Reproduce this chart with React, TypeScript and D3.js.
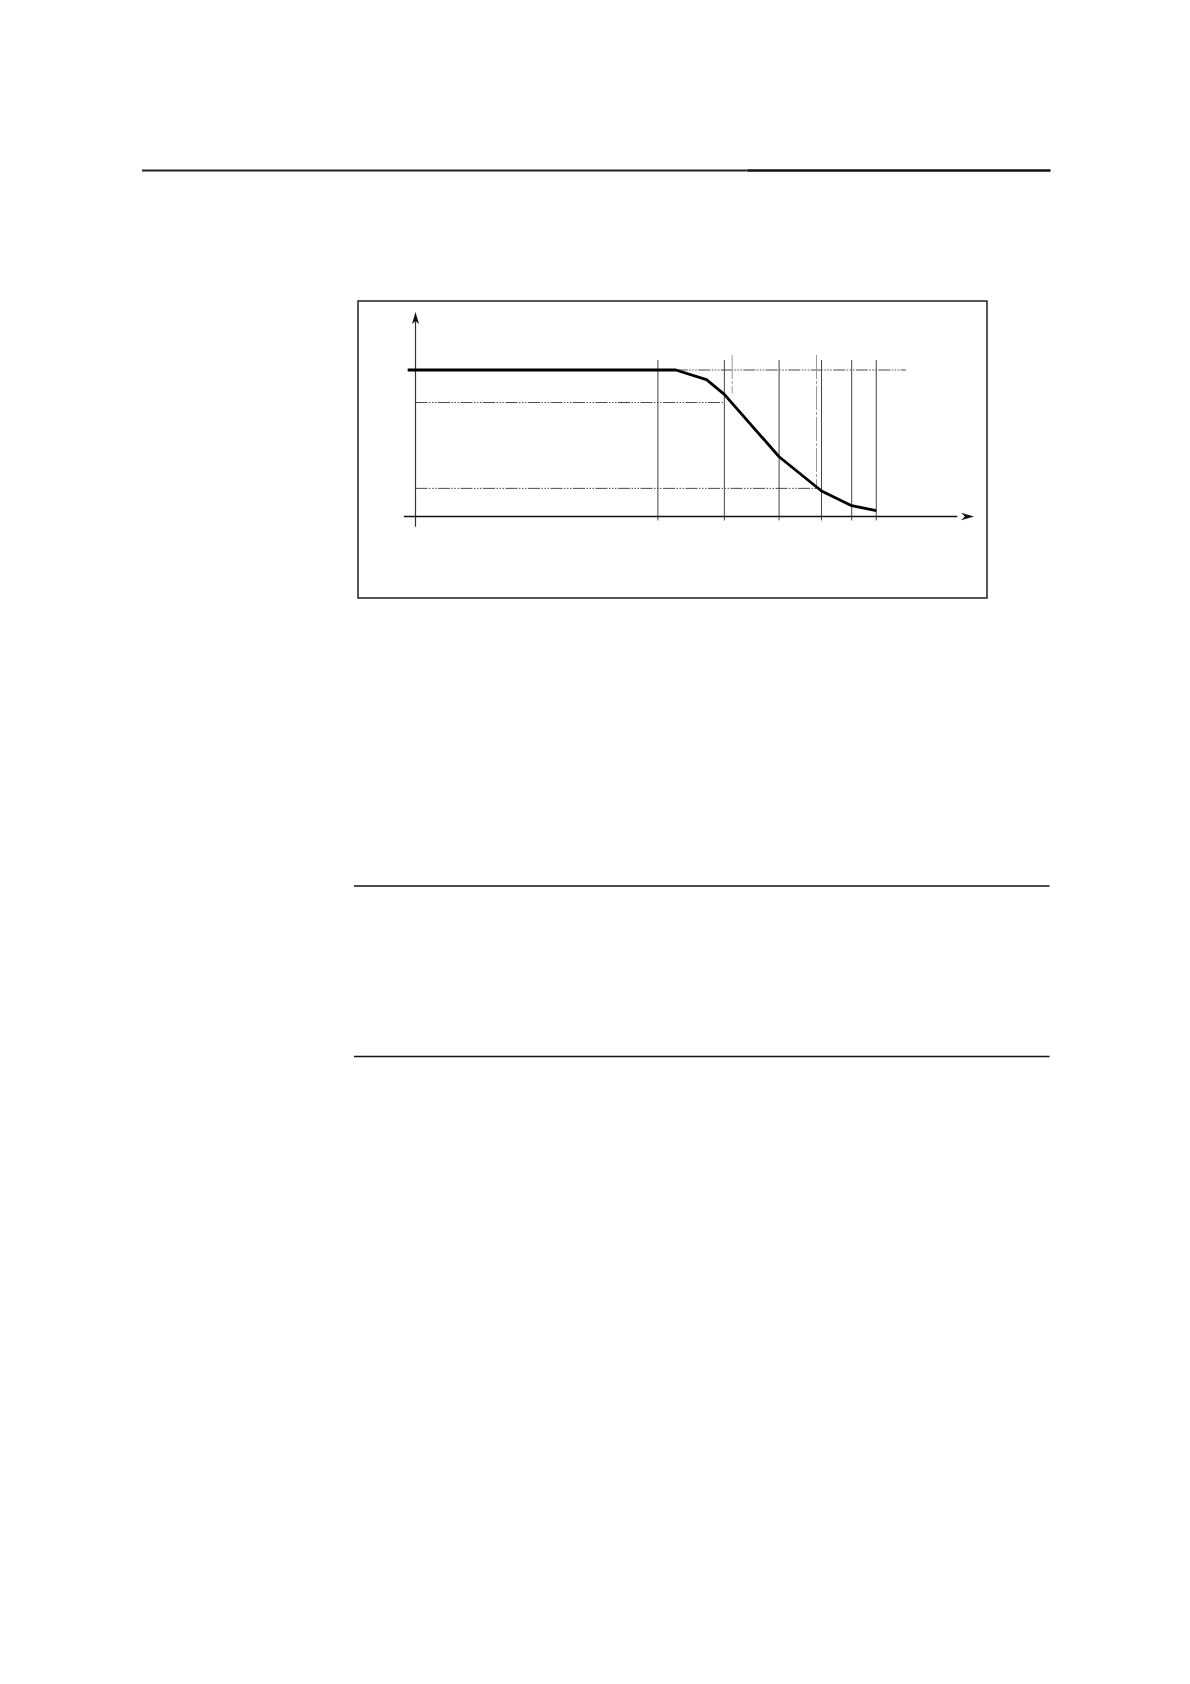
import { useEffect, useRef } from "react";
import * as d3 from "d3";

// Characteristic curve (relative units: x 0..100 along the axis, y 0..100 up to the plateau)
const curveX = [-1.4, 46.6, 52.1, 55.3, 65.1, 72.7, 78.1, 82.5];
const curveY = [100, 100, 93.4, 83.4, 40.8, 17.4, 7.4, 4.0];

// Vertical guide lines: main (solid gray) and faint (taller, lighter)
const guideX = [43.4, 55.3, 65.1, 72.7, 78.1, 82.5];
const faintGuides = [
  { x: 56.7, yTop: 110.2, yBottom: 84 },
  { x: 71.8, yTop: 110.2, yBottom: 19 },
];

// Horizontal dash-dot reference levels
const levels = [
  { y: 100, from: 46.6, to: 87.8 },
  { y: 77.8, from: 0, to: 55.3 },
  { y: 19.2, from: 0, to: 72.7 },
];

export default function App() {
  const ref = useRef<SVGSVGElement>(null);

  useEffect(() => {
    if (!ref.current) return;
    const svg = d3.select(ref.current);
    svg.selectAll("*").remove();

    // Page rules
    svg.append("line").attr("x1", 142).attr("x2", 749).attr("y1", 170.5).attr("y2", 170.5)
      .attr("stroke", "#222").attr("stroke-width", 2);
    svg.append("line").attr("x1", 748).attr("x2", 1050.5).attr("y1", 170.5).attr("y2", 170.5)
      .attr("stroke", "#111").attr("stroke-width", 2.6);
    svg.append("line").attr("x1", 354).attr("x2", 1049.5).attr("y1", 886).attr("y2", 886)
      .attr("stroke", "#111").attr("stroke-width", 1.3);
    svg.append("line").attr("x1", 354).attr("x2", 1049.5).attr("y1", 1056.5).attr("y2", 1056.5)
      .attr("stroke", "#111").attr("stroke-width", 1.3);

    // Figure frame
    svg.append("rect").attr("x", 358).attr("y", 301).attr("width", 629).attr("height", 297)
      .attr("fill", "none").attr("stroke", "#111").attr("stroke-width", 1.4);

    const x = d3.scaleLinear().domain([0, 100]).range([415.5, 974]);
    const y = d3.scaleLinear().domain([0, 100]).range([516.5, 370]);

    const g = svg.append("g");

    // dash-dot levels
    g.selectAll(".level")
      .data(levels)
      .enter()
      .append("line")
      .attr("class", "level")
      .attr("x1", (d) => x(d.from))
      .attr("x2", (d) => x(d.to))
      .attr("y1", (d) => y(d.y))
      .attr("y2", (d) => y(d.y))
      .attr("stroke", "#4a4a4a")
      .attr("stroke-width", 1)
      .attr("stroke-dasharray", "12 1.5 1.5 1.5 1.5 1.5 1.5 1.5");

    // faint guides
    g.selectAll(".faint")
      .data(faintGuides)
      .enter()
      .append("line")
      .attr("x1", (d) => x(d.x))
      .attr("x2", (d) => x(d.x))
      .attr("y1", (d) => y(d.yTop))
      .attr("y2", (d) => y(d.yBottom))
      .attr("stroke", "#999")
      .attr("stroke-width", 1)
      .attr("stroke-dasharray", "24 2 3 2");

    // main guides
    g.selectAll(".guide")
      .data(guideX)
      .enter()
      .append("line")
      .attr("x1", (d) => x(d))
      .attr("x2", (d) => x(d))
      .attr("y1", y(106.8))
      .attr("y2", y(-2.7))
      .attr("stroke", "#444")
      .attr("stroke-width", 1);

    // axes with arrowheads
    const axisColor = "#111";
    g.append("line").attr("x1", x(0)).attr("x2", x(0)).attr("y1", y(-7)).attr("y2", y(134))
      .attr("stroke", "#333").attr("stroke-width", 1.2);
    g.append("line").attr("x1", x(-2.1)).attr("x2", x(97)).attr("y1", y(0)).attr("y2", y(0))
      .attr("stroke", axisColor).attr("stroke-width", 1.5);

    const yTip = y(139.6);
    g.append("path")
      .attr("d", `M${x(0)},${yTip} L${x(0) - 3.5},${yTip + 12} L${x(0)},${yTip + 9} L${x(0) + 3.5},${yTip + 12} Z`)
      .attr("fill", axisColor);
    const xTip = x(100);
    g.append("path")
      .attr("d", `M${xTip},${y(0)} L${xTip - 13},${y(0) - 3.8} L${xTip - 9},${y(0)} L${xTip - 13},${y(0) + 3.8} Z`)
      .attr("fill", axisColor);

    // characteristic curve
    const line = d3
      .line<number>()
      .x((d, i) => x(curveX[i]))
      .y((d) => y(d));
    g.append("path")
      .datum(curveY)
      .attr("d", line)
      .attr("fill", "none")
      .attr("stroke", "#000")
      .attr("stroke-width", 2.8)
      .attr("stroke-linejoin", "round");
  }, []);

  return (
    <svg
      ref={ref}
      width={1190}
      height={1684}
      style={{ position: "absolute", top: 0, left: 0, background: "#fff" }}
    />
  );
}
